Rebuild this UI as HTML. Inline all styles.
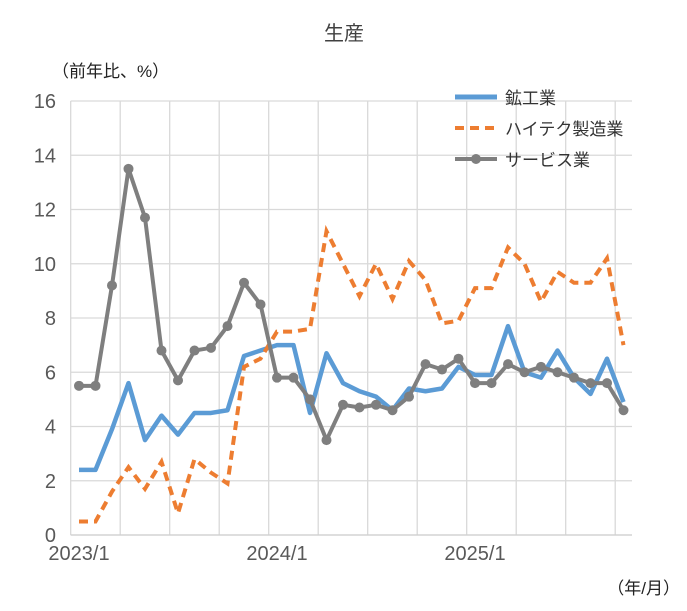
<!DOCTYPE html><html><head><meta charset="utf-8"><style>body{margin:0;background:#fff}</style></head><body>
<svg width="687" height="606" xmlns="http://www.w3.org/2000/svg" font-family="'Liberation Sans','Noto Sans CJK JP',sans-serif">
<rect width="687" height="606" fill="#fff"/>
<text x="344" y="40" font-size="20" fill="#404040" text-anchor="middle">生産</text>
<text x="52" y="77" font-size="17" fill="#222">（前年比、%）</text>
<text x="680" y="594" font-size="17" fill="#222" text-anchor="end">（年/月）</text>
<g stroke="#d9d9d9" stroke-width="1.3" id="grid"></g>
<g id="g" font-size="20" fill="#595959"></g>
<g id="legend" font-size="17" fill="#333">
<line x1="455" y1="97" x2="497" y2="97" stroke="#5b9bd5" stroke-width="5"/><text x="505" y="104">鉱工業</text>
<line x1="455" y1="128" x2="497" y2="128" stroke="#ed7d31" stroke-width="4" stroke-dasharray="9,6"/><text x="505" y="135">ハイテク製造業</text>
<line x1="455" y1="159" x2="497" y2="159" stroke="#7f7f7f" stroke-width="4"/><circle cx="476" cy="159" r="5" fill="#7f7f7f"/><text x="505" y="166">サービス業</text>
</g>
<g id="s"></g>
</svg>
<script>
const NS="http://www.w3.org/2000/svg";
function el(p,t,a,txt){const e=document.createElementNS(NS,t);for(const k in a)e.setAttribute(k,a[k]);if(txt)e.textContent=txt;p.appendChild(e);return e;}
const grid=document.getElementById('grid'),g=document.getElementById('g'),s=document.getElementById('s');
const Y=v=>535-v*27.125,X=i=>79+16.5*i;
for(let v=0;v<=16;v+=2){el(grid,'line',{x1:70.7,x2:632,y1:Y(v),y2:Y(v)});el(g,'text',{x:56,y:Y(v)+7,'text-anchor':'end'},String(v));}
for(let k=0;k<=11;k++){const x=70.7+k*49.5;el(grid,'line',{x1:x,x2:x,y1:101,y2:535});}
el(g,'text',{x:79,y:560,'text-anchor':'middle'},'2023/1');
el(g,'text',{x:277,y:560,'text-anchor':'middle'},'2024/1');
el(g,'text',{x:475,y:560,'text-anchor':'middle'},'2025/1');
const gray=[5.5,5.5,9.2,13.5,11.7,6.8,5.7,6.8,6.9,7.7,9.3,8.5,5.8,5.8,5.0,3.5,4.8,4.7,4.8,4.6,5.1,6.3,6.1,6.5,5.6,5.6,6.3,6.0,6.2,6.0,5.8,5.6,5.6,4.6];
const blue=[2.4,2.4,3.9,5.6,3.5,4.4,3.7,4.5,4.5,4.6,6.6,6.8,7.0,7.0,4.5,6.7,5.6,5.3,5.1,4.6,5.4,5.3,5.4,6.2,5.9,5.9,7.7,6.0,5.8,6.8,5.8,5.2,6.5,4.9];
const org=[0.5,0.5,1.6,2.5,1.7,2.7,0.8,2.8,2.3,1.9,6.2,6.5,7.5,7.5,7.6,11.2,10.0,8.8,10.0,8.7,10.1,9.4,7.8,7.9,9.1,9.1,10.6,10.0,8.6,9.7,9.3,9.3,10.2,7.0];
const pts=a=>a.map((v,i)=>X(i)+','+Y(v)).join(' ');
el(s,'polyline',{points:pts(blue),fill:'none',stroke:'#5b9bd5','stroke-width':4.5,'stroke-linejoin':'round'});
el(s,'polyline',{points:pts(org),fill:'none',stroke:'#ed7d31','stroke-width':4,'stroke-dasharray':'9,6'});
el(s,'polyline',{points:pts(gray),fill:'none',stroke:'#7f7f7f','stroke-width':4,'stroke-linejoin':'round'});
gray.forEach((v,i)=>el(s,'circle',{cx:X(i),cy:Y(v),r:5,fill:'#7f7f7f'}));
el(grid,'line',{x1:70.7,x2:632,y1:535,y2:535,stroke:'#d0d0d0'});
</script>
</body></html>
